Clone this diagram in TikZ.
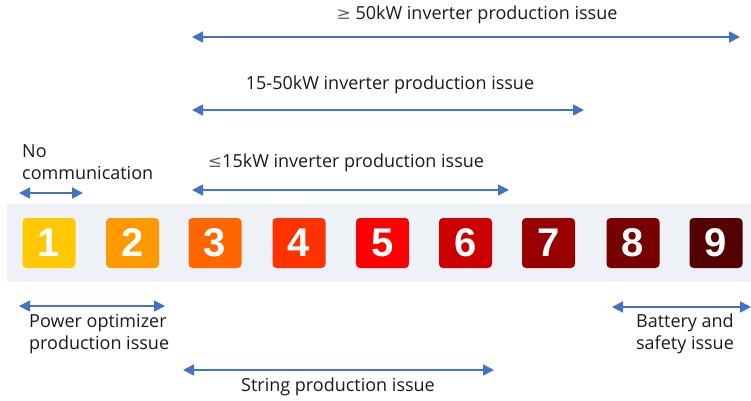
\documentclass[tikz,border=0pt]{standalone}
\usepackage{fontspec}
\setmainfont{Open Sans}
\newfontfamily\digitfont{Liberation Sans}
\newfontfamily\symfont{DejaVu Sans}
\usetikzlibrary{arrows.meta}
\definecolor{band}{HTML}{EEF2F7}
\definecolor{arrowblue}{HTML}{4472C4}
\definecolor{labeltext}{HTML}{1A1A1A}
\definecolor{c1}{HTML}{FFC800}
\definecolor{c2}{HTML}{FF9900}
\definecolor{c3}{HTML}{FF6600}
\definecolor{c4}{HTML}{FF3300}
\definecolor{c5}{HTML}{FF0000}
\definecolor{c6}{HTML}{CC0000}
\definecolor{c7}{HTML}{990000}
\definecolor{c8}{HTML}{770000}
\definecolor{c9}{HTML}{550000}
\tikzset{
  levelbox/.style={rounded corners=4pt, minimum width=53pt, minimum height=50pt,
    inner sep=0pt, text=white, font=\digitfont\bfseries\fontsize{40}{40}\selectfont},
  span/.style={arrowblue, line width=1.7pt, {Triangle[length=11pt,width=11pt]}-{Triangle[length=11pt,width=11pt]}},
  lbl/.style={text=labeltext, inner sep=0pt, font=\fontsize{18}{22}\selectfont}
}
\newcommand{\cmpsym}[1]{{\color{black!60}\symfont\fontsize{17}{17}\selectfont #1}}
\begin{document}
\begin{tikzpicture}[x=1pt, y=-1pt]
\useasboundingbox (0,0) rectangle (751,400);
% background strip behind the level tiles
\fill[band] (7,204) rectangle (751,282);
% level tiles
\foreach \i/\x in {1/49, 2/132.5, 3/215, 4/299, 5/382.5, 6/465.5, 7/548.5, 8/633, 9/716}
  \node[levelbox, fill=c\i] (L\i) at (\x,243) {\i};

% span end points
\coordinate (a1) at (192,37);  \coordinate (a2) at (740,37);
\coordinate (b1) at (192,110); \coordinate (b2) at (584,110);
\coordinate (c1) at (192,190); \coordinate (c2) at (509,190);
\coordinate (d1) at (19,193);  \coordinate (d2) at (83,193);
\coordinate (e1) at (19,306);  \coordinate (e2) at (165,306);
\coordinate (f1) at (612,307); \coordinate (f2) at (751,307);
\coordinate (g1) at (183,370); \coordinate (g2) at (494,370);

\draw[span] (a1) -- (a2);
\draw[span] (b1) -- (b2);
\draw[span] (c1) -- (c2);
\draw[span] (d1) -- (d2);
\draw[span] (e1) -- (e2);
\draw[span] (f1) -- (f2);
\draw[span] (g1) -- (g2);

% labels
\node[lbl] (ta) at (477,15) {\cmpsym{≥} 50kW inverter production issue};
\node[lbl] (tb) at (390,85) {15-50kW inverter production issue};
\node[lbl] (tc) at (346,163) {\cmpsym{≤}15kW inverter production issue};
\node[lbl, align=left, anchor=west] (td) at (22,162) {No\\communication};
\node[lbl, align=left, anchor=west] (te) at (29,334) {Power optimizer\\production issue};
\node[lbl, align=left] (tf) at (685,334) {Battery and\\safety issue};
\node[lbl] (tg) at (338,387) {String production issue};
\end{tikzpicture}
\end{document}
